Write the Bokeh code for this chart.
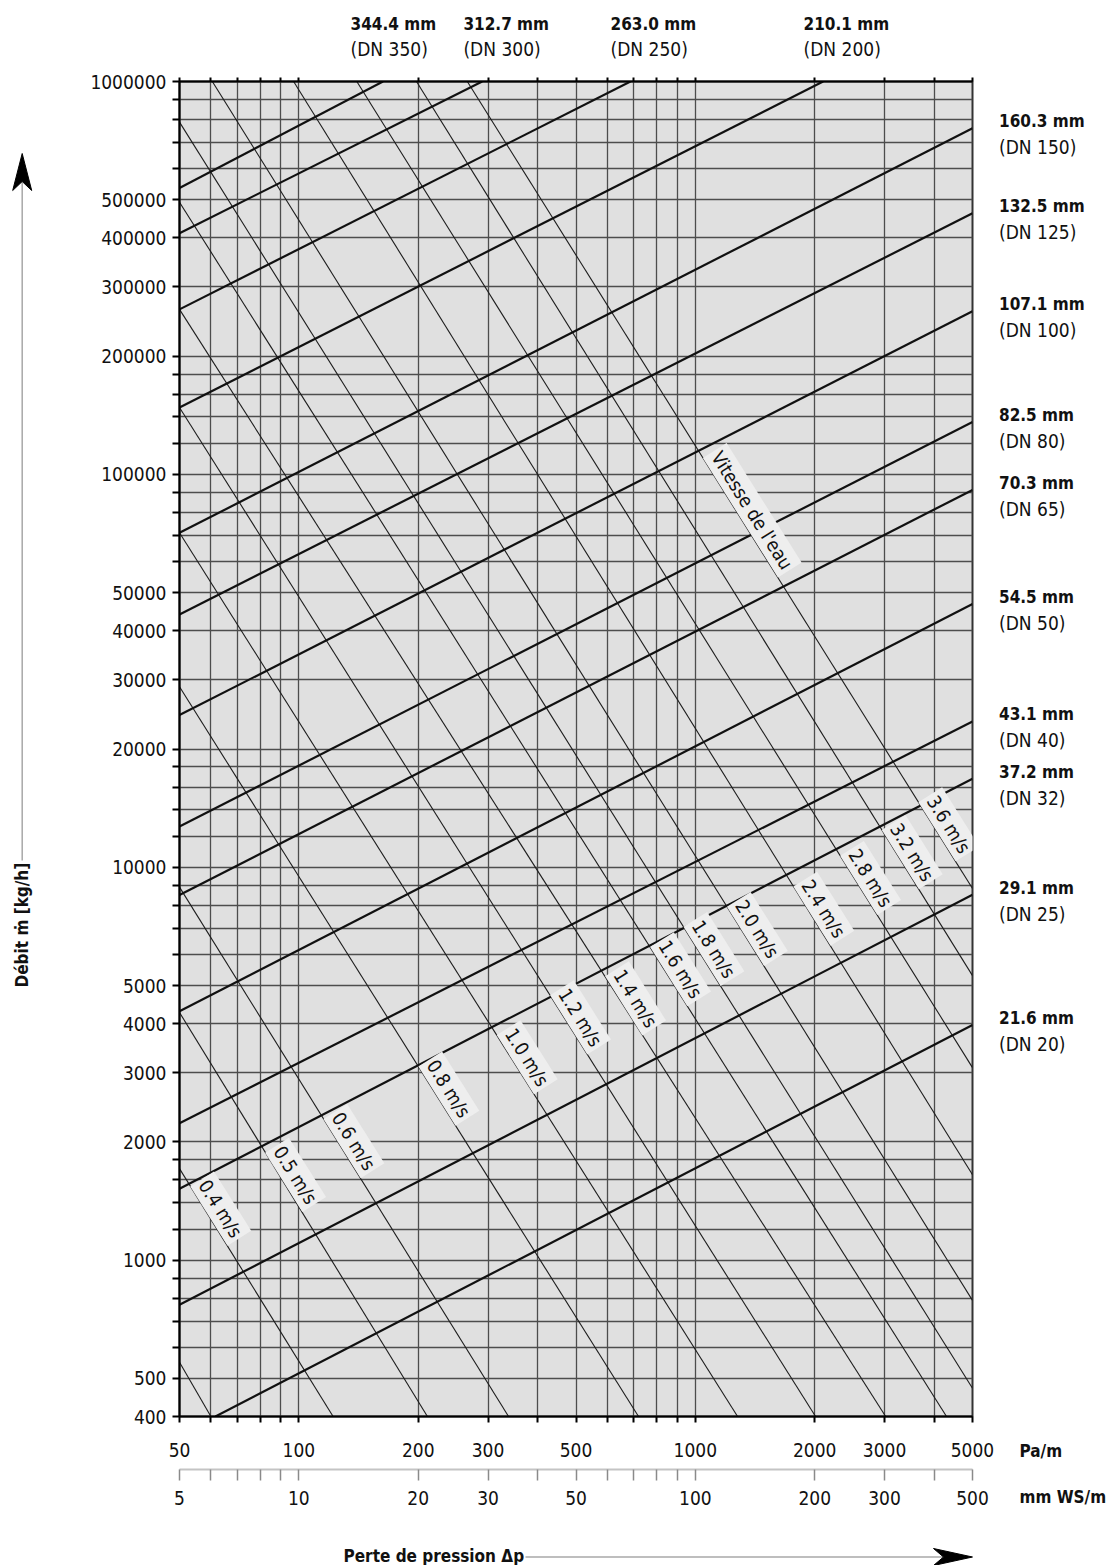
import math
from bokeh.plotting import figure
from bokeh.layouts import row, column
from bokeh.models import (LogAxis, Range1d, LogScale, LinearScale, FixedTicker,
                          NumeralTickFormatter, Label, ColumnDataSource)
from bokeh.core.properties import value
from bokeh.embed import file_html
from bokeh.resources import INLINE

FONT = "'DejaVu Sans Condensed', 'DejaVu Sans', sans-serif"
INK = "#111111"

# ---------------- axes / ticks ----------------
x_labeled = [50, 100, 200, 300, 500, 1000, 2000, 3000, 5000]
x_minor = [60, 70, 80, 90, 400, 600, 700, 800, 900, 4000]
ws_labeled = [5, 10, 20, 30, 50, 100, 200, 300, 500]
ws_minor = [6, 7, 8, 9, 40, 60, 70, 80, 90, 400]
y_labeled = [400, 500, 1000, 2000, 3000, 4000, 5000, 10000, 20000, 30000, 40000, 50000,
             100000, 200000, 300000, 400000, 500000, 1000000]
y_minor = [600, 700, 800, 900, 1200, 1400, 1600, 1800, 6000, 7000, 8000, 9000,
           12000, 14000, 16000, 18000, 60000, 70000, 80000, 90000,
           120000, 140000, 160000, 180000, 600000, 700000, 800000, 900000]

# ---------------- pipe lines (inner diameter) ----------------
pipe_mm = ["344.4", "312.7", "263.0", "210.1", "160.3", "132.5", "107.1", "82.5",
           "70.3", "54.5", "43.1", "37.2", "29.1", "21.6"]
pipe_dn = [350, 300, 250, 200, 150, 125, 100, 80, 65, 50, 40, 32, 25, 20]
pipe_dp_start = [50, 50, 50, 50, 50, 50, 50, 50, 50, 50, 50, 50, 50, 61.6]
pipe_flow_start = [536000, 411000, 263000, 148000, 71000, 44000, 24400, 12700,
                   8500, 4300, 2230, 1520, 770, 400]
pipe_dp_end = [163, 290, 686, 2100, 5000, 5000, 5000, 5000, 5000, 5000, 5000, 5000, 5000, 5000]
pipe_flow_end = [1000000, 1000000, 1000000, 1000000, 760000, 462000, 260000, 136000,
                 91300, 46800, 23500, 16800, 8510, 3970]

# ---------------- water velocity lines ----------------
vel = [0.3, 0.4, 0.5, 0.6, 0.8, 1.0, 1.2, 1.4, 1.6, 1.8, 2.0, 2.4, 2.8, 3.2, 3.6]
vel_dp_start = [50, 50, 50, 50, 50, 50, 50, 50, 50, 50, 60.5, 97, 140, 198, 266]
vel_flow_start = [550, 1710, 4270, 8900, 28800, 71000, 148000, 263000, 493000, 788000,
                  1000000, 1000000, 1000000, 1000000, 1000000]
vel_dp_end = [60, 122, 211, 338, 719, 1278, 2010, 3020, 4300, 5000, 5000, 5000, 5000, 5000, 5000]
vel_flow_end = [400, 400, 400, 400, 400, 400, 400, 400, 400, 472, 790, 1650, 3090, 5300, 8830]
vel_labeled = [0.4, 0.5, 0.6, 0.8, 1.0, 1.2, 1.4, 1.6, 1.8, 2.0, 2.4, 2.8, 3.2, 3.6]
vel_label_dp = [59.3, 91.6, 128.5, 223, 351.6, 479.2, 659.8, 856.6, 1039.7, 1338,
                1968, 2582, 3289, 4068]
title_label_dp = 1299  # "Vitesse de l'eau" sits on the 3.6 m/s line

top_label_dp = [135, 260, 611, 1874]  # left edge of the top diameter labels

# ---------------- layout constants (page pixels; Bokeh page has no margin) ----------------
W, H = 1114, 1565
FRAME_LEFT, FRAME_TOP = 179, 81
FRAME_W, FRAME_H = 793, 1335
ML, MR, MT, MB = 95, 26, 14, 109
LW = FRAME_LEFT - ML
TOP_H = FRAME_TOP - MT
MAIN_W = ML + FRAME_W + MR
MAIN_H = MT + FRAME_H + MB
RW = W - LW - MAIN_W
BOT_H = H - TOP_H - MAIN_H
X_MIN, X_MAX, Y_MIN, Y_MAX = 50, 5000, 400, 1000000
PPX = FRAME_W / math.log10(X_MAX / X_MIN)
PPY = FRAME_H / math.log10(Y_MAX / Y_MIN)


def on_line(x0, y0, x1, y1, x):
    t = (math.log10(x) - math.log10(x0)) / (math.log10(x1) - math.log10(x0))
    return 10 ** (math.log10(y0) + t * (math.log10(y1) - math.log10(y0)))


def blank(w, h, xr, yr, xt="linear", yt="linear"):
    f = figure(width=w, height=h, x_range=xr, y_range=yr, x_axis_type=xt, y_axis_type=yt,
               x_axis_location=None, y_axis_location=None,
               output_backend="svg", toolbar_location=None, min_border=0)
    f.frame_align = False
    f.xgrid.visible = False
    f.ygrid.visible = False
    f.outline_line_color = None
    f.background_fill_color = "white"
    f.border_fill_color = "white"
    return f


# ---------------- main chart ----------------
p = figure(width=MAIN_W, height=MAIN_H, x_axis_type="log", y_axis_type="log",
           x_range=Range1d(X_MIN, X_MAX), y_range=Range1d(Y_MIN, Y_MAX),
           output_backend="svg", toolbar_location=None,
           min_border_left=ML, min_border_right=MR, min_border_top=MT, min_border_bottom=MB)
p.frame_align = False
p.background_fill_color = "#e0e0e0"
p.border_fill_color = "white"
p.outline_line_color = "#333333"
p.outline_line_width = 2

xt = FixedTicker(ticks=x_labeled, minor_ticks=x_minor)
yt = FixedTicker(ticks=y_labeled, minor_ticks=y_minor)
xa = p.xaxis[0]
ya = p.yaxis[0]
xa.ticker = xt
ya.ticker = yt
for ax in (xa, ya):
    ax.formatter = NumeralTickFormatter(format="0")
    ax.axis_line_color = "black"
    ax.axis_line_width = 2
    ax.major_tick_line_color = "black"
    ax.minor_tick_line_color = "black"
    ax.major_tick_line_width = 2
    ax.minor_tick_line_width = 2
    ax.major_tick_in = 0
    ax.minor_tick_in = 0
    ax.major_label_text_font = FONT
    ax.major_label_text_font_size = "19px"
    ax.major_label_text_color = INK
xa.major_tick_out = 6
xa.minor_tick_out = 6
xa.major_label_standoff = 20
xa.axis_label = " "
xa.axis_label_standoff = 0
xa.axis_label_text_font_size = "7px"
ya.major_tick_out = 7
ya.minor_tick_out = 7
ya.major_label_standoff = 6

p.xgrid[0].ticker = xt
p.ygrid[0].ticker = yt
for g in (p.xgrid[0], p.ygrid[0]):
    g.grid_line_color = "#4d4d4d"
    g.grid_line_width = 1.3
    g.minor_grid_line_color = "#4d4d4d"
    g.minor_grid_line_width = 1.3

top = LogAxis(ticker=FixedTicker(ticks=[], minor_ticks=x_labeled + x_minor),
              axis_line_color="black", axis_line_width=2,
              minor_tick_line_color="black", minor_tick_line_width=2,
              minor_tick_out=4, minor_tick_in=0, major_tick_out=4, major_tick_in=0,
              major_label_standoff=0)
p.add_layout(top, "above")

p.extra_x_ranges = {"ws": Range1d(5, 500)}
p.extra_x_scales = {"ws": LogScale()}
ws = LogAxis(x_range_name="ws", ticker=FixedTicker(ticks=ws_labeled, minor_ticks=ws_minor),
             formatter=NumeralTickFormatter(format="0"),
             axis_line_color="#c4c4c4", axis_line_width=2,
             major_tick_line_color="#8a8a8a", minor_tick_line_color="#8a8a8a",
             major_tick_line_width=1.5, minor_tick_line_width=1.5,
             major_tick_out=11, minor_tick_out=11, major_tick_in=0, minor_tick_in=0,
             major_label_standoff=10, major_label_text_font=FONT,
             major_label_text_font_size="19px", major_label_text_color=INK)
p.add_layout(ws, "below")

vsrc = ColumnDataSource(dict(
    xs=[[a, b] for a, b in zip(vel_dp_start, vel_dp_end)],
    ys=[[a, b] for a, b in zip(vel_flow_start, vel_flow_end)]))
p.multi_line("xs", "ys", source=vsrc, line_color="#1c1c1c", line_width=1.1)

psrc = ColumnDataSource(dict(
    xs=[[a, b] for a, b in zip(pipe_dp_start, pipe_dp_end)],
    ys=[[a, b] for a, b in zip(pipe_flow_start, pipe_flow_end)]))
p.multi_line("xs", "ys", source=psrc, line_color="#111111", line_width=2.2)

ANG = -1.01
for v, xl in zip(vel_labeled, vel_label_dp):
    i = vel.index(v)
    yl = on_line(vel_dp_start[i], vel_flow_start[i], vel_dp_end[i], vel_flow_end[i], xl)
    p.add_layout(Label(x=xl, y=yl, text=f"{v:.1f} m/s", angle=ANG,
                       text_align="center", text_baseline="bottom",
                       text_font=FONT, text_font_size="19px", text_color=INK,
                       background_fill_color="#eeeeee", padding=3))
i36 = vel.index(3.6)
yv = on_line(vel_dp_start[i36], vel_flow_start[i36], vel_dp_end[i36], vel_flow_end[i36],
             title_label_dp)
p.add_layout(Label(x=title_label_dp, y=yv, text="Vitesse de l'eau", angle=ANG,
                   text_align="center", text_baseline="bottom",
                   text_font=FONT, text_font_size="19px", text_color=INK,
                   background_fill_color="#eeeeee", padding=3))

# ---------------- top strip: diameters of the largest pipes ----------------
top_fig = blank(W, TOP_H,
                Range1d(X_MIN * 10 ** (-FRAME_LEFT / PPX),
                        X_MAX * 10 ** ((W - FRAME_LEFT - FRAME_W) / PPX)),
                Range1d(MT, MT + TOP_H), xt="log")
top_idx = [i for i in range(len(pipe_dn)) if pipe_flow_end[i] >= Y_MAX]
top_fig.text(x=top_label_dp, y=[58] * len(top_idx),
             text=[f"{pipe_mm[i]} mm" for i in top_idx],
             text_font=value(FONT), text_font_size="17px", text_font_style="bold",
             text_align="left", text_baseline="middle", text_color=INK)
top_fig.text(x=top_label_dp, y=[33] * len(top_idx),
             text=[f"(DN {pipe_dn[i]})" for i in top_idx],
             text_font=value(FONT), text_font_size="19px",
             text_align="left", text_baseline="middle", text_color=INK)

# ---------------- right strip: diameters at the line ends ----------------
right_fig = blank(RW, MAIN_H, Range1d(MR, MR + RW),
                  Range1d(Y_MIN * 10 ** (-MB / PPY), Y_MAX * 10 ** (MT / PPY)), yt="log")
right_fig.extra_y_ranges = {"px": Range1d(FRAME_H + MB, -MT)}
right_fig.extra_y_scales = {"px": LinearScale()}
r_idx = [i for i in range(len(pipe_dn)) if pipe_flow_end[i] < Y_MAX]
right_fig.text(x=[26.5] * len(r_idx), y=[pipe_flow_end[i] * 10 ** (7 / PPY) for i in r_idx],
               text=[f"{pipe_mm[i]} mm" for i in r_idx],
               text_font=value(FONT), text_font_size="17px", text_font_style="bold",
               text_align="left", text_baseline="middle", text_color=INK)
right_fig.text(x=[26.5] * len(r_idx), y=[pipe_flow_end[i] / 10 ** (19 / PPY) for i in r_idx],
               text=[f"(DN {pipe_dn[i]})" for i in r_idx],
               text_font=value(FONT), text_font_size="19px",
               text_align="left", text_baseline="middle", text_color=INK)
right_fig.text(x=[47, 47], y=[1369.5, 1415.5], text=["Pa/m", "mm WS/m"], y_range_name="px",
               text_font=value(FONT), text_font_size="17px", text_font_style="bold",
               text_align="left", text_baseline="middle", text_color=INK)

# ---------------- left strip: flow title with arrow ----------------
left_fig = blank(LW, MAIN_H, Range1d(-FRAME_LEFT, -FRAME_LEFT + LW), Range1d(FRAME_H + MB, -MT))
left_fig.text(x=[-157.3], y=[906], text=["Débit ṁ [kg/h]"], angle=math.pi / 2,
              text_font=value(FONT), text_font_size="17px", text_font_style="bold",
              text_align="left", text_baseline="middle", text_color=INK)
left_fig.segment(x0=[-157.3], y0=[779], x1=[-157.3], y1=[100],
                 line_color="#a8a8a8", line_width=1.5)
left_fig.patch(x=[-157.3, -166.8, -157.3, -147.8], y=[72, 109, 100, 109],
               fill_color="black", line_color="black")

# ---------------- bottom strip: pressure-loss title with arrow ----------------
bot_fig = blank(W, BOT_H, Range1d(-FRAME_LEFT, W - FRAME_LEFT), Range1d(MB + BOT_H, MB))
bot_fig.text(x=[164], y=[139], text=["Perte de pression Δp"],
             text_font=value(FONT), text_font_size="17px", text_font_style="bold",
             text_align="left", text_baseline="middle", text_color=INK)
bot_fig.segment(x0=[346], y0=[140.5], x1=[764], y1=[140.5], line_color="#a8a8a8", line_width=1.5)
bot_fig.patch(x=[FRAME_W, 754, 764, 754], y=[140.5, 132, 140.5, 149],
              fill_color="black", line_color="black")

layout = column(top_fig, row(left_fig, p, right_fig, spacing=0), bot_fig, spacing=0)
open("out.html", "w").write(file_html(layout, INLINE))
